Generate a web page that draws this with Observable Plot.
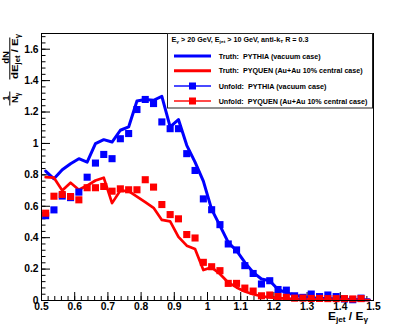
<!DOCTYPE html>
<html><head><meta charset="utf-8">
<script src="https://cdn.jsdelivr.net/npm/d3@7"></script>
<script src="https://cdn.jsdelivr.net/npm/@observablehq/plot@0.6"></script>
<style>
body{margin:0;background:#fff}
#chart{position:relative;width:415px;height:333px}
</style>
</head><body><div id="chart"></div>
<script>
// Bin centres (E_jet / E_gamma)
const xBins = [0.5125,0.5375,0.5625,0.5875,0.6125,0.6375,0.6625,0.6875,0.7125,0.7375,
  0.7625,0.7875,0.8125,0.8375,0.8625,0.8875,0.9125,0.9375,0.9625,0.9875,
  1.0125,1.0375,1.0625,1.0875,1.1125,1.1375,1.1625,1.1875,1.2125,1.2375,
  1.2625,1.2875,1.3125,1.3375,1.3625,1.3875,1.4125,1.4375,1.4625,1.4875];

// Truth: PYTHIA (vacuum case)
const truthPythia = [0.824,0.775,0.833,0.871,0.903,0.881,0.999,1.024,1.009,1.084,
  1.105,1.27,1.28,1.275,1.30,1.105,1.152,0.988,0.881,0.76,
  0.58,0.477,0.37,0.317,0.243,0.179,0.137,0.126,0.07,0.05,
  0.035,0.022,0.018,0.014,0.012,0.01,0.008,0.006,0.005,0.004];

// Truth: PYQUEN (Au+Au 10% central case)
const truthPyquen = [0.785,0.782,0.70,0.75,0.705,0.732,0.764,0.782,0.62,0.70,
  0.696,0.662,0.626,0.59,0.513,0.504,0.405,0.349,0.328,0.194,
  0.211,0.169,0.115,0.083,0.057,0.04,0.027,0.02,0.015,0.012,
  0.01,0.008,0.007,0.006,0.005,0.005,0.004,0.004,0.003,0.003];

// Unfold: PYTHIA (vacuum case)
const unfoldPythia = [0.54,0.577,0.665,0.655,0.69,0.785,0.875,0.93,0.903,1.03,
  1.063,1.216,1.28,1.254,1.137,1.094,1.094,0.935,0.828,0.647,
  0.578,0.483,0.36,0.322,0.222,0.172,0.105,0.126,0.07,0.066,
  0.03,0.02,0.041,0.025,0.035,0.025,0.01,0.005,0.015];

// Unfold: PYQUEN (Au+Au 10% central case)
const unfoldPyquen = [0.556,0.664,0.675,0.662,0.641,0.718,0.718,0.726,0.696,0.711,
  0.705,0.705,0.769,0.722,0.611,0.547,0.52,0.42,0.398,0.243,
  0.215,0.19,0.109,0.109,0.079,0.06,0.03,0.035,0.025,0.02,
  0.015,0.015,0.013,0.013,0.012,0.012,0.012,0.01,0.012];

// Tick labels
const xTicks = [0.5,0.6,0.7,0.8,0.9,1,1.1,1.2,1.3,1.4,1.5];
const yTicks = [0,0.2,0.4,0.6,0.8,1,1.2,1.4,1.6];

const legendHeader = ["E", "γ", " > 20 GeV, E", "jet", " > 10 GeV, anti-k", "T", " R = 0.3"];
const legendLabels = [
  "Truth:  PYTHIA (vacuum case)",
  "Truth:  PYQUEN (Au+Au 10% central case)",
  "Unfold:  PYTHIA (vacuum case)",
  "Unfold:  PYQUEN (Au+Au 10% central case)"
];

const truthRows = xBins.map((x, i) => ({x, pythia: truthPythia[i], pyquen: truthPyquen[i]}));
const unfoldRows = unfoldPythia.map((v, i) => ({x: xBins[i], pythia: v, pyquen: unfoldPyquen[i]}));

const xMinor = d3.range(0.5, 1.5001, 0.02);
const yMinor = d3.range(0, 1.7, 0.04);
const fmt = d => String(+(+d).toFixed(2));

const W = 415, H = 333, ML = 41, MR = 42, MT = 33, MB = 33;
const FW = W - ML - MR, FH = H - MT - MB;

const BLUE = "#0000ff", RED = "#ff0000";

const svg = Plot.plot({
  width: W, height: H,
  marginLeft: ML, marginRight: MR, marginTop: MT, marginBottom: MB,
  x: {domain: [0.5, 1.5]},
  y: {domain: [0, 1.7]},
  style: {fontFamily: "'Liberation Sans', Arial, sans-serif", fontSize: "10.3px", fontWeight: "bold", background: "white", color: "black", overflow: "visible"},
  marks: [
    Plot.tickX(xMinor, {x: d => d, stroke: "black", insetTop: FH - 4}),
    Plot.tickX(xTicks, {x: d => d, stroke: "black", insetTop: FH - 8}),
    Plot.tickY(yMinor, {y: d => d, stroke: "black", insetRight: FW - 4.5}),
    Plot.tickY(yTicks, {y: d => d, stroke: "black", insetRight: FW - 9}),
    Plot.axisX({ticks: xTicks, tickSize: 0, tickPadding: 2, tickFormat: fmt, label: null}),
    Plot.axisY({ticks: yTicks, tickSize: 0, tickPadding: 3, tickFormat: fmt, label: null}),
    Plot.line(truthRows, {x: "x", y: "pythia", stroke: BLUE, strokeWidth: 3}),
    Plot.line(truthRows, {x: "x", y: "pyquen", stroke: RED, strokeWidth: 2.7}),
    Plot.dot(unfoldRows, {x: "x", y: "pythia", symbol: "square", r: 4, fill: BLUE, stroke: null}),
    Plot.dot(unfoldRows, {x: "x", y: "pyquen", symbol: "square", r: 4, fill: RED, stroke: null}),
    Plot.frame({stroke: "black", strokeWidth: 1})
  ]
});

const s = d3.select(svg);
const FONT = "'Liberation Sans', Arial, sans-serif";

// Legend box
const lg = s.append("g").attr("font-family", FONT).attr("font-weight", "bold").attr("text-anchor", "start");
lg.append("rect").attr("x", 167.5).attr("y", 33.5).attr("width", 205).attr("height", 74.5)
  .style("fill", "white").style("stroke", "#222").style("stroke-width", "1px");

// header with subscripts
const ht = lg.append("text").attr("x", 171.5).attr("y", 41.8).attr("font-size", 6.3)
  .attr("textLength", 137).attr("lengthAdjust", "spacingAndGlyphs");
legendHeader.forEach((t, i) => {
  const sub = i % 2 === 1;
  ht.append("tspan").attr("font-size", sub ? 4.3 : 6.3).attr("dy", sub ? 1.4 : (i === 0 ? 0 : -1.4)).text(t);
});

const rowsY = [56, 70.7, 86, 101];
const rowW = [102, 144, 107.7, 148.7];
const swatch = [
  {c: BLUE, w: 3, sq: false},
  {c: RED, w: 3, sq: false},
  {c: "#4a4aff", w: 2, sq: true, sc: BLUE},
  {c: "#ff4a4a", w: 2, sq: true, sc: RED}
];
rowsY.forEach((yy, i) => {
  const sw = swatch[i];
  lg.append("line").attr("x1", 174).attr("x2", 211).attr("y1", yy).attr("y2", yy)
    .style("stroke", sw.c).style("stroke-width", sw.w + "px");
  if (sw.sq) lg.append("rect").attr("x", 189).attr("y", yy - 3.5).attr("width", 7).attr("height", 7).style("fill", sw.sc);
  lg.append("text").attr("x", 218.7).attr("y", yy + 2.7).attr("font-size", 7.4)
    .attr("textLength", rowW[i]).attr("lengthAdjust", "spacingAndGlyphs").text(legendLabels[i]);
});

// X axis title: E_jet / E_gamma
const xt = s.append("text").attr("font-family", FONT).attr("font-weight", "bold").attr("font-size", 10.8)
  .attr("text-anchor", "start")
  .attr("x", 328).attr("y", 319.5).attr("textLength", 40).attr("lengthAdjust", "spacingAndGlyphs");
[["E",0],["jet",1],[" / E",0],["γ",1]].forEach(([t, sub], i) => {
  xt.append("tspan").attr("font-size", sub ? 7.5 : 10.8).attr("dy", sub ? 2.5 : (i === 0 ? 0 : -2.5)).text(t);
});

// Y axis title: 1/N_gamma dN / d(E_jet/E_gamma), rotated
const yg = s.append("g").attr("transform", "rotate(-90)").attr("font-family", FONT).attr("font-weight", "bold");
// "1 / N_gamma"
yg.append("text").attr("x", -98).attr("y", 8.5).attr("font-size", 9.5).attr("text-anchor", "middle").text("1");
yg.append("line").attr("x1", -105.5).attr("x2", -91.5).attr("y1", 9.8).attr("y2", 9.8).style("stroke", "black").style("stroke-width", "1px");
const ng = yg.append("text").attr("x", -103).attr("y", 17.6).attr("font-size", 9.5).attr("text-anchor", "start");
ng.append("tspan").text("N");
ng.append("tspan").attr("font-size", 6.5).attr("dy", 2).text("γ");
// "dN / dE_jet/E_gamma"
yg.append("text").attr("x", -57.5).attr("y", 8.5).attr("font-size", 9.5).attr("text-anchor", "middle").text("dN");
yg.append("line").attr("x1", -79.5).attr("x2", -37.5).attr("y1", 9.8).attr("y2", 9.8).style("stroke", "black").style("stroke-width", "1px");
const dg = yg.append("text").attr("x", -79).attr("y", 17.6).attr("font-size", 9.5).attr("text-anchor", "start")
  .attr("textLength", 45).attr("lengthAdjust", "spacingAndGlyphs");
[["dE",0],["jet",1],[" / E",0],["γ",1]].forEach(([t, sub], i) => {
  dg.append("tspan").attr("font-size", sub ? 6.5 : 9.5).attr("dy", sub ? 2 : (i === 0 ? 0 : -2)).text(t);
});

document.getElementById("chart").appendChild(svg);
</script>
</body></html>
